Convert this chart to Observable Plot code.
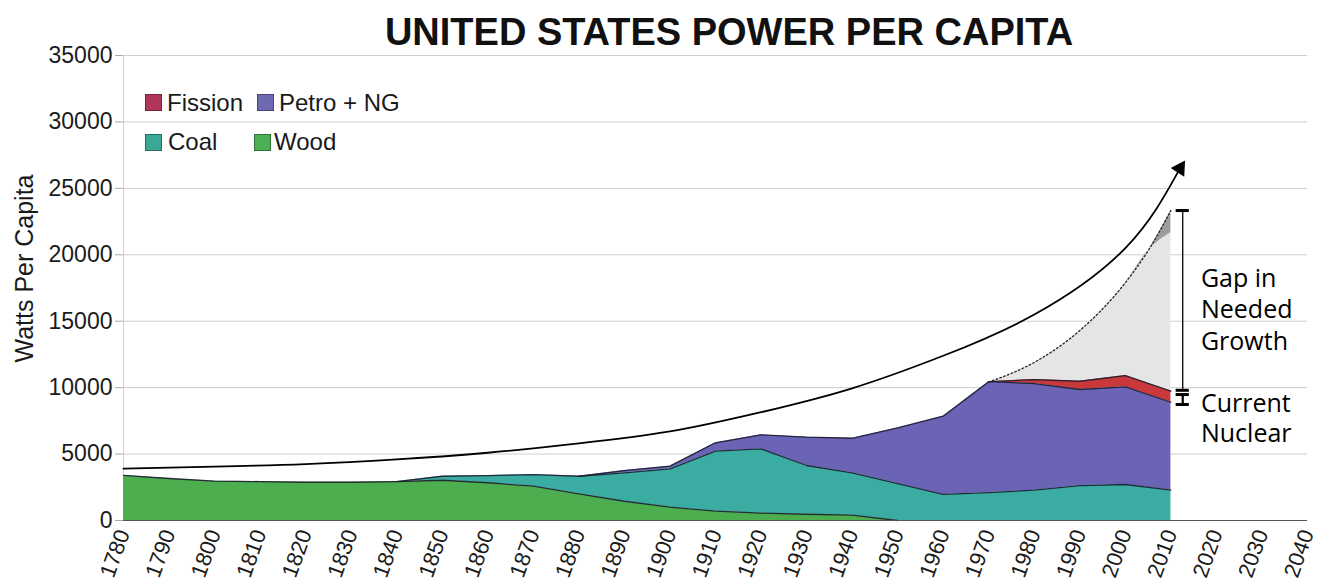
<!DOCTYPE html>
<html>
<head>
<meta charset="utf-8">
<script src="https://cdn.jsdelivr.net/npm/d3@7"></script>
<script src="https://cdn.jsdelivr.net/npm/@observablehq/plot@0.6"></script>
<style>
  body { margin: 0; background: #fff; }
  #wrap { position: relative; width: 1318px; height: 585px; overflow: hidden; }
  #title { position: relative; height: 40px; }
  #title div { position: absolute; top: 13px; left: 70px; width: 1318px; text-align: center;
    font: bold 38px/38px "Liberation Sans", Arial, sans-serif; color: #111; }
  .lg-sw { position: absolute; width: 15px; height: 15px; border: 1px solid rgba(0,0,0,0.35); }
  .lg-tx { position: absolute; font: 24px/24px "Liberation Sans", Arial, sans-serif; color: #1a1a1a; white-space: nowrap; }
</style>
</head>
<body>
<div id="wrap">
  <div id="title"><div>UNITED STATES POWER PER CAPITA</div></div>
  <div id="chart"></div>
  <div id="legend"></div>
</div>
<script>
// ---- data (Watts per capita, layer thickness) ----
const years   = [1780,1790,1800,1810,1820,1830,1840,1850,1860,1870,1880,1890,1900,1910,1920,1930,1940,1950,1960,1970,1980,1990,2000,2010];
const wood    = [3390,3160,2960,2930,2880,2880,2930,3030,2840,2580,2010,1450,1000,700,550,470,400,0,null,null,null,null,null,null];
const coal    = [null,null,null,null,null,null,0,300,540,880,1320,2140,2890,4520,4840,3670,3190,2780,1960,2100,2280,2630,2710,2280];
const petro   = [null,null,null,null,null,null,null,null,null,null,0,170,200,630,1060,2130,2600,4190,5890,8350,8030,7230,7350,6620];
const fission = [null,null,null,null,null,null,null,null,null,null,null,null,null,null,null,null,null,null,null,0,300,620,850,830];

const sources      = ["Fission", "Petro + NG", "Coal", "Wood"];
const areaColors   = ["#c9383a", "#6a63b6", "#3aaca2", "#4dae50"];
const legendColors = ["#b0365a", "#6e6ab2", "#3aa894", "#4caf55"];
const stackOrder   = ["Wood", "Coal", "Petro + NG", "Fission"];

// "needed growth" shading
const gapYears = [1970, 1980, 1990, 2000, 2005, 2010];
const gapLow   = [10420, 11900, 14300, 17900, 20300, 21650];
const gapHigh  = [10420, 11900, 14300, 17900, 20300, 23330];

// exponential trend arrow
const trendYears  = [1780, 1800, 1820, 1840, 1860, 1880, 1900, 1920, 1940, 1960, 1980, 2000, 2012];
const trendValues = [3900, 4050, 4250, 4600, 5100, 5800, 6700, 8150, 9950, 12400, 15500, 20500, 26500];

// brackets and notes
const bracketYear    = 2012.6;
const gapBracket     = [9800, 23330];
const nuclearBracket = [8730, 9480];
const noteYear       = 2016.6;
const gapNote        = "Gap in\nNeeded\nGrowth";
const gapNoteValue   = 15980;
const nuclearNote    = "Current\nNuclear";
const nuclearNoteValue = 7760;

const xTicks = d3.range(1780, 2041, 10);
const yTicks = d3.range(0, 35001, 5000);

const series = {"Wood": wood, "Coal": coal, "Petro + NG": petro, "Fission": fission};
const table = sources.flatMap(s => years.map((yr, j) => ({year: yr, source: s, value: series[s][j]})))
  .filter(d => d.value != null);

const chart = Plot.plot({
  width: 1318,
  height: 545,
  marginTop: 15,
  marginBottom: 65,
  marginLeft: 123,
  marginRight: 11,
  style: {fontFamily: "'Liberation Sans', Arial, sans-serif", fontSize: "23px", color: "#1a1a1a", background: "white", overflow: "visible"},
  x: {domain: [1780, 2040]},
  y: {domain: [0, 35000]},
  color: {domain: sources, range: areaColors},
  marks: [
    Plot.gridY(yTicks, {stroke: "#cfcfcf", strokeOpacity: 1}),
    Plot.ruleX([1780], {stroke: "#cfcfcf"}),
    Plot.areaY(gapYears, {x: gapYears, y1: 0, y2: gapLow, fill: "#e5e5e5", curve: "monotone-x"}),
    Plot.areaY(gapYears, {x: gapYears, y1: gapLow, y2: gapHigh, fill: "#9c9c9c", curve: "monotone-x"}),
    Plot.areaY(table, Plot.stackY({x: "year", y: "value", z: "source", fill: "source", order: stackOrder})),
    Plot.lineY(table, Plot.stackY2({x: "year", y: "value", z: "source", order: stackOrder, stroke: "#1e1e30", strokeWidth: 1.3, strokeOpacity: 0.9})),
    Plot.line(gapYears, {x: gapYears, y: gapHigh, stroke: "#222", strokeWidth: 1.3, strokeDasharray: "1.5,2.5", curve: "monotone-x"}),
    Plot.ruleY([0], {stroke: "#555"}),
    Plot.line(trendYears, {x: trendYears, y: trendValues, curve: "natural", stroke: "#000", strokeWidth: 1.8}),
    Plot.dot([trendYears.length - 1], {x: i => trendYears[i], y: i => trendValues[i], symbol: "triangle", r: 6, fill: "#000", stroke: null, rotate: 33}),
    Plot.ruleX([bracketYear], {y1: gapBracket[0], y2: gapBracket[1], stroke: "#000", strokeWidth: 1.3}),
    Plot.ruleX([bracketYear], {y1: nuclearBracket[0], y2: nuclearBracket[1], stroke: "#000", strokeWidth: 2.2}),
    Plot.ruleY([...gapBracket, ...nuclearBracket], {y: d => d, x1: bracketYear - 1.45, x2: bracketYear + 1.45, stroke: "#000", strokeWidth: 3}),
    Plot.text([gapNote], {x: noteYear, y: gapNoteValue, text: d => d, textAnchor: "start", lineAnchor: "middle", lineHeight: 1.27, fontSize: 25, fontFamily: "'Open Sans', sans-serif", fill: "#000"}),
    Plot.text([nuclearNote], {x: noteYear, y: nuclearNoteValue, text: d => d, textAnchor: "start", lineAnchor: "middle", lineHeight: 1.18, fontSize: 25, fontFamily: "'Open Sans', sans-serif", fill: "#000"}),
    Plot.text(["Watts Per Capita"], {frameAnchor: "left", textAnchor: "middle", rotate: -90, dx: -99, dy: -19.5, fontSize: 25, fill: "#1a1a1a"}),
    Plot.axisY({ticks: yTicks, tickFormat: d => String(d), tickSize: 8, tickPadding: 3, stroke: "#aaa", fill: "#1a1a1a", fontSize: 23, label: null}),
    Plot.axisX({ticks: xTicks, tickFormat: d => String(d), tickSize: 0, tickPadding: 10, tickRotate: -70, fontSize: 22, fill: "#1a1a1a", label: null})
  ]
});
document.getElementById("chart").appendChild(chart);

// ---- legend (HTML overlay, inside the plot area) ----
const legendItems = [
  {name: "Fission",    sw: [145, 94],  tx: [167, 91]},
  {name: "Petro + NG", sw: [257, 94],  tx: [279, 91]},
  {name: "Coal",       sw: [145, 134], tx: [168, 130]},
  {name: "Wood",       sw: [254, 134], tx: [274, 130]}
];
const lg = document.getElementById("legend");
legendItems.forEach(it => {
  const sw = document.createElement("div");
  sw.className = "lg-sw";
  sw.style.left = it.sw[0] + "px"; sw.style.top = it.sw[1] + "px";
  sw.style.background = legendColors[sources.indexOf(it.name)];
  lg.appendChild(sw);
  const tx = document.createElement("div");
  tx.className = "lg-tx";
  tx.style.left = it.tx[0] + "px"; tx.style.top = it.tx[1] + "px";
  tx.textContent = it.name;
  lg.appendChild(tx);
});
</script>
</body>
</html>
